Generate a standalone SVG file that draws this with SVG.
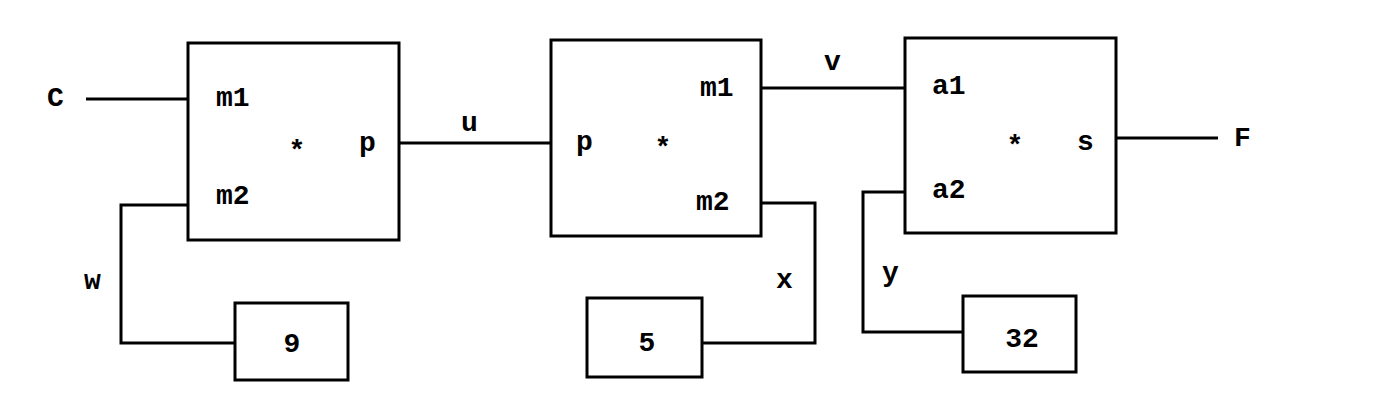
<svg xmlns="http://www.w3.org/2000/svg" width="1392" height="414" viewBox="0 0 1392 414">
<style>
rect.b{fill:none;stroke:#000;stroke-width:3}
.c path{fill:none;stroke:#000;stroke-width:3}
text{font-family:"Liberation Mono","Courier New",monospace;font-weight:bold;font-size:28px;fill:#000}
.m{text-anchor:middle}
</style>
<rect width="1392" height="414" fill="#fff"/>
<g class="c" id="connectors">
<path d="M86 99H188"/>
<path d="M188 205H121V343H235"/>
<path d="M399 143H551"/>
<path d="M761 88H905"/>
<path d="M761 203H815V343H702"/>
<path d="M905 192H863V332H963"/>
<path d="M1116 138H1218"/>
</g>
<g id="labels">
<text x="47" y="106">C</text>
<text x="84" y="289">w</text>
<text x="461" y="131">u</text>
<text x="824" y="70">v</text>
<text x="776" y="288">x</text>
<text x="882" y="281">y</text>
<text x="1234" y="146">F</text>
</g>
<g id="mult1">
<rect class="b" x="188" y="43" width="211" height="197"/>
<text x="216" y="106">m1</text>
<text x="216" y="204">m2</text>
<text class="m" x="297" y="159">*</text>
<text x="359" y="151">p</text>
</g>
<g id="mult2">
<rect class="b" x="551" y="40" width="210" height="196"/>
<text x="576" y="150">p</text>
<text class="m" x="663" y="156">*</text>
<text x="700" y="96">m1</text>
<text x="696" y="210">m2</text>
</g>
<g id="mult3">
<rect class="b" x="905" y="38" width="211" height="195"/>
<text x="932" y="94">a1</text>
<text x="932" y="198">a2</text>
<text class="m" x="1015" y="154">*</text>
<text x="1077" y="150">s</text>
</g>
<g id="const9">
<rect class="b" x="235" y="303" width="113" height="77"/>
<text class="m" x="292" y="352">9</text>
</g>
<g id="const5">
<rect class="b" x="587" y="298" width="115" height="79"/>
<text class="m" x="647" y="351">5</text>
</g>
<g id="const32">
<rect class="b" x="963" y="296" width="113" height="76"/>
<text class="m" x="1022" y="347">32</text>
</g>
</svg>
